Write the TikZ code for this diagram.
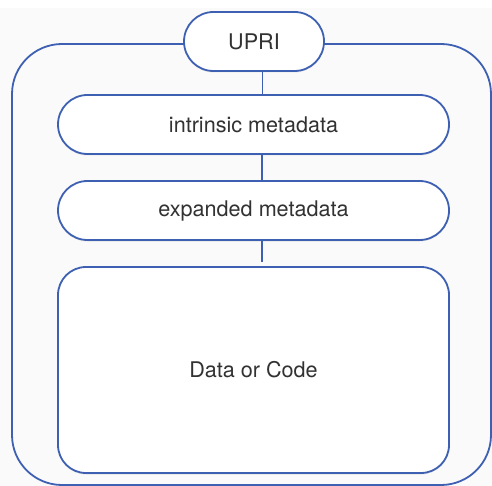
\documentclass[tikz,border=0pt]{standalone}
\usepackage{fontspec}
\setmainfont{TeX Gyre Heros}
\usetikzlibrary{shadows}
\definecolor{edgeblue}{RGB}{62,96,178}
\definecolor{txt}{RGB}{50,50,50}
\definecolor{bg}{RGB}{250,250,250}
\tikzset{
  pill/.style={draw=edgeblue, line width=1.8pt, fill=white, rounded corners=29.5pt,
    minimum height=59pt, font=\fontsize{21.6}{25}\selectfont, text=txt,
    drop shadow={opacity=0.18, shadow xshift=0pt, shadow yshift=-1.5pt}},
  databox/.style={draw=edgeblue, line width=1.8pt, fill=white, rounded corners=28pt,
    minimum width=391pt, minimum height=206pt, font=\fontsize{21.6}{25}\selectfont, text=txt,
    drop shadow={opacity=0.18, shadow xshift=0pt, shadow yshift=-1.5pt}},
  link/.style={draw=edgeblue, line width=1.8pt},
  outer/.style={draw=edgeblue, line width=1.8pt, rounded corners=50pt}
}
\begin{document}
\begin{tikzpicture}[x=1pt,y=-1pt]
\useasboundingbox (0,0) rectangle (492,486);
\fill[bg] (0,8) rectangle (492,486);
\fill[white] (0,0) rectangle (492,8);
% outer container
\draw[outer] (254,44) -- (491,44) -- (491,485) -- (12,485) -- (12,44) -- cycle;
% nodes
\node[pill, minimum width=140pt] (upri) at (254,41.5) {UPRI};
\node[pill, minimum width=391pt] (intr) at (253.5,124.5) {intrinsic metadata};
\node[pill, minimum width=391pt] (expd) at (253.5,210.5) {expanded metadata};
\node[databox] (data) at (253.5,370) {Data or Code};
% connectors
\draw[link] ([xshift=8.5pt]upri.south) -- ([xshift=8.5pt]upri.south |- intr.north);
\draw[link] ([xshift=8.5pt]intr.south) -- ([xshift=8.5pt]intr.south |- expd.north);
\draw[link, shorten >=4pt] ([xshift=8.5pt]expd.south) -- ([xshift=8.5pt]expd.south |- data.north);
\end{tikzpicture}
\end{document}
